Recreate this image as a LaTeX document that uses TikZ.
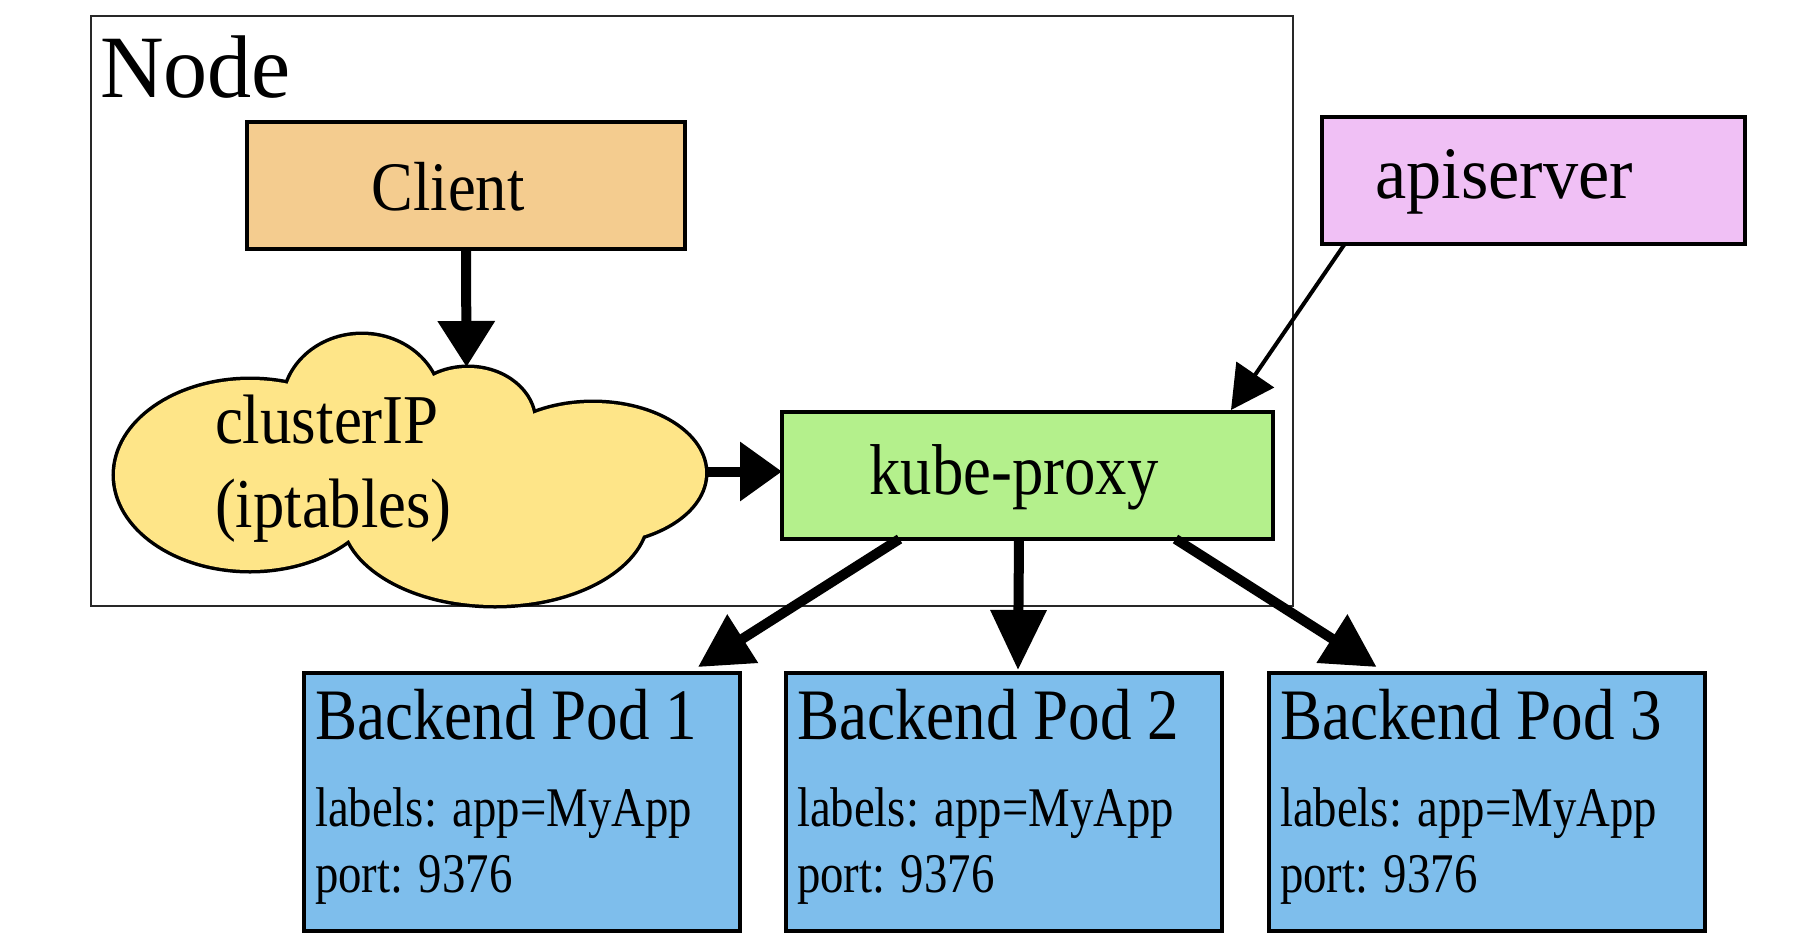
\documentclass[tikz,border=0pt]{standalone}
\usepackage{fontspec}
\setmainfont{Liberation Serif}
\usepackage{graphicx}
\usetikzlibrary{arrows.meta}
\definecolor{clientc}{RGB}{244,204,143}
\definecolor{apic}{RGB}{240,192,245}
\definecolor{kubec}{RGB}{180,240,140}
\definecolor{cloudc}{RGB}{254,229,136}
\definecolor{podc}{RGB}{126,190,236}
\definecolor{framec}{RGB}{40,40,40}
\newcommand\txt[3]{{\fontsize{#1}{#1}\selectfont\scalebox{#2}[1]{#3}}}
\begin{document}
\begin{tikzpicture}[x=1pt,y=-1pt,
  box/.style={draw=black, line width=4.8pt, inner sep=0pt, outer sep=0pt, rectangle},
  lbl/.style={inner sep=0pt, outer sep=0pt, anchor=base west, text=black},
  clbl/.style={inner sep=0pt, outer sep=0pt, anchor=base, text=black},
  fat/.style={line width=10pt, draw=black},
  thin/.style={line width=4pt, draw=black},
]
\useasboundingbox (0,0) rectangle (1799,943);
\fill[white] (0,0) rectangle (1799,943);

% Node frame
\node[draw=framec, line width=2pt, minimum width=1202pt, minimum height=590pt, inner sep=0pt, outer sep=0pt] (nodebox) at (692,311) {};
\node[lbl] (nodelbl) at (100,97) {\txt{89}{0.99}{Node}};

% cloud
\foreach \cx/\cy/\rx/\ry in {250/475/135/95, 362/405/78/70, 468/422/66/54, 593/473/112/70, 495/515/152/90}
  \draw[black, line width=7pt] (\cx,\cy) ellipse [x radius=\rx, y radius=\ry];
\foreach \cx/\cy/\rx/\ry in {250/475/135/95, 362/405/78/70, 468/422/66/54, 593/473/112/70, 495/515/152/90, 450/470/120/50}
  \fill[cloudc] (\cx,\cy) ellipse [x radius=\rx, y radius=\ry];
\coordinate (cloudtop) at (466.5,367);
\coordinate (cloudright) at (706,471.5);
\node[lbl] (cloudlbl1) at (215,443) {\txt{70}{0.9}{clusterIP}};
\node[lbl] (cloudlbl2) at (215,527) {\txt{70}{0.895}{(iptables)}};

% boxes
\node[box, fill=clientc, minimum width=438pt, minimum height=127pt] (client) at (466,185.5) {};
\node[clbl] (clientlbl) at (448,210) {\txt{69.5}{0.9}{Client}};

\node[box, fill=apic, minimum width=423pt, minimum height=127pt] (api) at (1533.5,180.5) {};
\node[clbl] (apilbl) at (1504,198) {\txt{74}{0.95}{apiserver}};

\node[box, fill=kubec, minimum width=491pt, minimum height=127pt] (kube) at (1027.5,475.5) {};
\node[clbl] (kubelbl) at (1014,494) {\txt{72}{0.87}{kube-proxy}};

\foreach \i/\x in {1/302,2/784,3/1267}{
  \node[box, fill=podc, minimum width=436pt, minimum height=258pt] (pod\i) at (\x+220,802) {};
  \node[lbl] (podt\i) at (\x+13,739) {\txt{72.5}{0.87}{Backend Pod \i}};
  \node[lbl] (podl\i) at (\x+13,826) {\txt{56}{0.835}{labels: app=MyApp}};
  \node[lbl] (podp\i) at (\x+13,892) {\txt{56}{0.835}{port: 9376}};
}

% connectors
\draw[fat, -{Triangle[length=46pt,width=55pt]}] (client.south) -- (cloudtop);
\draw[fat, -{Triangle[length=42pt,width=57pt]}] (cloudright) -- ([yshift=4pt]kube.west);
\draw[thin, -{Triangle[length=43pt,width=45pt]}] ([xshift=22.7pt]api.south west) -- ([xshift=-42pt,yshift=2pt]kube.north east);
\draw[fat, -{Triangle[length=53pt,width=55pt]}] ([xshift=-128pt]kube.south) -- ([xshift=-42pt,yshift=6pt]pod1.north east);
\draw[fat, -{Triangle[length=60pt,width=54pt]}] ([xshift=-8.5pt]kube.south) -- ([xshift=14pt,yshift=3pt]pod2.north);
\draw[fat, -{Triangle[length=53pt,width=55pt]}] ([xshift=148pt]kube.south) -- ([xshift=107.6pt,yshift=6pt]pod3.north west);
\end{tikzpicture}
\end{document}
